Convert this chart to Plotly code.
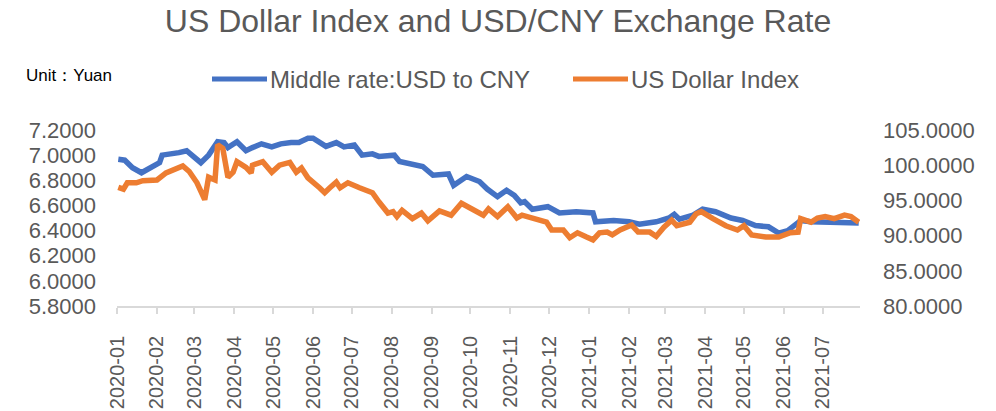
import plotly.graph_objects as go

# ---------------- data ----------------
cny_dates = [
    "2020-01-02", "2020-01-07", "2020-01-13", "2020-01-20", "2020-02-03", "2020-02-05",
    "2020-02-18", "2020-02-24", "2020-02-28", "2020-03-06", "2020-03-12", "2020-03-19",
    "2020-03-24", "2020-03-27", "2020-04-03", "2020-04-10", "2020-04-15", "2020-04-22",
    "2020-04-30", "2020-05-07", "2020-05-15", "2020-05-21", "2020-05-28", "2020-06-01",
    "2020-06-11", "2020-06-19", "2020-06-25", "2020-07-03", "2020-07-09", "2020-07-17",
    "2020-07-22", "2020-08-03", "2020-08-07", "2020-08-17", "2020-08-25", "2020-09-02",
    "2020-09-14", "2020-09-18", "2020-09-28", "2020-10-08", "2020-10-14", "2020-10-22",
    "2020-10-29", "2020-11-04", "2020-11-09", "2020-11-12", "2020-11-18", "2020-11-30",
    "2020-12-09", "2020-12-22", "2021-01-04", "2021-01-06", "2021-01-20", "2021-02-01",
    "2021-02-09", "2021-02-22", "2021-03-04", "2021-03-08", "2021-03-12", "2021-03-22",
    "2021-03-30", "2021-04-09", "2021-04-21", "2021-04-30", "2021-05-10", "2021-05-20",
    "2021-05-28", "2021-06-04", "2021-06-14", "2021-06-22", "2021-07-05", "2021-07-19",
    "2021-07-29",
]
cny_values = [
    6.967, 6.960, 6.900, 6.860, 6.940, 7.000,
    7.020, 7.035, 7.000, 6.940, 7.000, 7.107,
    7.100, 7.060, 7.107, 7.035, 7.060, 7.090,
    7.065, 7.090, 7.100, 7.100, 7.135, 7.135,
    7.070, 7.100, 7.065, 7.080, 7.000, 7.010,
    6.990, 7.000, 6.950, 6.930, 6.910, 6.840,
    6.850, 6.760, 6.830, 6.790, 6.730, 6.670,
    6.720, 6.680, 6.620, 6.630, 6.570, 6.590,
    6.540, 6.550, 6.540, 6.470, 6.480, 6.470,
    6.450, 6.470, 6.500, 6.530, 6.490, 6.520,
    6.570, 6.550, 6.500, 6.480, 6.440, 6.430,
    6.380, 6.400, 6.480, 6.470, 6.470, 6.460,
    6.460,
]

dxy_dates = [
    "2020-01-02", "2020-01-06", "2020-01-09", "2020-01-16", "2020-01-21", "2020-02-01",
    "2020-02-08", "2020-02-18", "2020-02-21", "2020-02-26", "2020-03-03", "2020-03-09",
    "2020-03-12", "2020-03-17", "2020-03-19", "2020-03-23", "2020-03-27", "2020-03-31",
    "2020-04-03", "2020-04-10", "2020-04-14", "2020-04-15", "2020-04-23", "2020-04-30",
    "2020-05-06", "2020-05-14", "2020-05-19", "2020-05-23", "2020-05-28", "2020-06-06",
    "2020-06-10", "2020-06-14", "2020-06-19", "2020-06-22", "2020-06-28", "2020-07-07",
    "2020-07-17", "2020-07-22", "2020-07-29", "2020-08-02", "2020-08-05", "2020-08-09",
    "2020-08-17", "2020-08-24", "2020-08-29", "2020-09-07", "2020-09-16", "2020-09-24",
    "2020-10-03", "2020-10-11", "2020-10-15", "2020-10-22", "2020-10-30", "2020-11-06",
    "2020-11-10", "2020-11-21", "2020-11-29", "2020-12-03", "2020-12-12", "2020-12-17",
    "2020-12-23", "2020-12-30", "2021-01-04", "2021-01-09", "2021-01-15", "2021-01-19",
    "2021-01-25", "2021-02-03", "2021-02-08", "2021-02-17", "2021-02-22", "2021-02-28",
    "2021-03-06", "2021-03-10", "2021-03-20", "2021-03-25", "2021-03-29", "2021-04-07",
    "2021-04-17", "2021-04-26", "2021-05-01", "2021-05-07", "2021-05-18", "2021-05-28",
    "2021-06-06", "2021-06-12", "2021-06-14", "2021-06-22", "2021-06-27", "2021-07-03",
    "2021-07-10", "2021-07-18", "2021-07-23", "2021-07-29",
]
dxy_values = [
    96.86, 96.6, 97.5, 97.5, 97.8, 97.9,
    98.9, 99.6, 99.9, 99.1, 97.5, 95.1,
    98.3, 97.9, 102.9, 102.4, 98.3, 99.0,
    100.5, 99.7, 98.9, 100.0, 100.5, 99.0,
    100.0, 100.4, 99.0, 99.6, 98.2, 96.8,
    96.1, 96.8, 97.6, 96.8, 97.5, 96.8,
    96.1, 94.8, 93.2, 93.4, 92.7, 93.6,
    92.4, 93.2, 92.1, 93.5, 92.9, 94.6,
    93.8, 92.9, 93.8, 92.7, 94.1, 92.5,
    92.9, 92.4, 91.9, 90.8, 90.8, 89.7,
    90.4, 89.8, 89.4, 90.4, 90.5, 90.1,
    90.8, 91.5, 90.5, 90.5, 89.9, 91.2,
    92.2, 91.4, 91.9, 93.1, 93.4, 92.4,
    91.4, 90.8, 91.4, 90.1, 89.8, 89.8,
    90.4, 90.5, 92.4, 91.9, 92.5, 92.7,
    92.4, 92.9, 92.7, 91.9,
]

series_names = ["Middle rate:USD to CNY", "US Dollar Index"]
title_text = "US Dollar Index and USD/CNY Exchange Rate"
unit_text = "Unit：Yuan"

# ---------------- layout helpers ----------------
W, H = 996, 411
PL, PR, PT, PB = 117, 860, 130, 306  # plot area in pixels
BLUE = "#4472C4"
ORANGE = "#ED7D31"
GREY = "#595959"
FONT = "Liberation Sans, Arial, sans-serif"


def px_x(p):
    return (p - PL) / (PR - PL)


def px_y(p):
    return (PB - p) / (PB - PT)


fig = go.Figure()
fig.add_trace(go.Scatter(
    x=cny_dates, y=cny_values, name=series_names[0], mode="lines",
    line=dict(color=BLUE, width=5.5), yaxis="y", showlegend=False,
))
fig.add_trace(go.Scatter(
    x=dxy_dates, y=dxy_values, name=series_names[1], mode="lines",
    line=dict(color=ORANGE, width=5.5), yaxis="y2", showlegend=False,
))

# manual legend (long line samples as in the original)
legend_items = [(212, 267, BLUE, series_names[0]), (573, 628, ORANGE, series_names[1])]
shapes = []
annotations = []
for x0, x1, col, name in legend_items:
    shapes.append(dict(type="line", xref="paper", yref="paper",
                       x0=px_x(x0), x1=px_x(x1), y0=px_y(79), y1=px_y(79),
                       line=dict(color=col, width=5)))
    annotations.append(dict(xref="paper", yref="paper", x=px_x(x1 + 1), y=px_y(79),
                            xanchor="left", yanchor="middle", text=name, showarrow=False,
                            font=dict(family=FONT, size=24, color=GREY)))
annotations.append(dict(xref="paper", yref="paper", x=px_x(24), y=px_y(75),
                        xanchor="left", yanchor="middle", text=unit_text, showarrow=False,
                        font=dict(family=FONT, size=17, color="#000000")))

fig.update_layout(
    width=W, height=H,
    margin=dict(l=PL, r=W - PR, t=PT, b=H - PB, pad=0, autoexpand=False),
    paper_bgcolor="white", plot_bgcolor="white",
    font=dict(family=FONT, color=GREY),
    title=dict(text=title_text, x=0.5, xref="container", xanchor="center",
               y=1 - 21 / H, yref="container", yanchor="middle",
               font=dict(family=FONT, size=32, color=GREY)),
    shapes=shapes, annotations=annotations,
    hovermode=False,
    xaxis=dict(
        type="date", range=["2020-01-01", "2021-07-30"],
        dtick="M1", tick0="2020-01-01", tickformat="%Y-%m", tickangle=-90,
        ticks="outside", ticklen=6, tickcolor="#D9D9D9", tickwidth=1.5,
        showline=True, linecolor="#D9D9D9", linewidth=1.5,
        showgrid=False, zeroline=False, automargin=False,
        tickfont=dict(family=FONT, size=20, color=GREY),
        ticklabelstandoff=14,
    ),
    yaxis=dict(
        range=[5.8, 7.2], dtick=0.2, tick0=5.8, tickformat=".4f",
        showgrid=False, zeroline=False, showline=False, ticks="", automargin=False,
        tickfont=dict(family=FONT, size=22, color=GREY),
        ticklabelstandoff=20,
    ),
    yaxis2=dict(
        range=[80, 105], dtick=5, tick0=80, tickformat=".4f",
        overlaying="y", side="right", automargin=False,
        showgrid=False, zeroline=False, showline=False, ticks="",
        tickfont=dict(family=FONT, size=22, color=GREY),
        ticklabelstandoff=22,
    ),
)

fig.write_html(
    "out.html",
    config={"displayModeBar": False},
    post_script="document.body.style.margin='0px';document.body.style.padding='0px';",
)
